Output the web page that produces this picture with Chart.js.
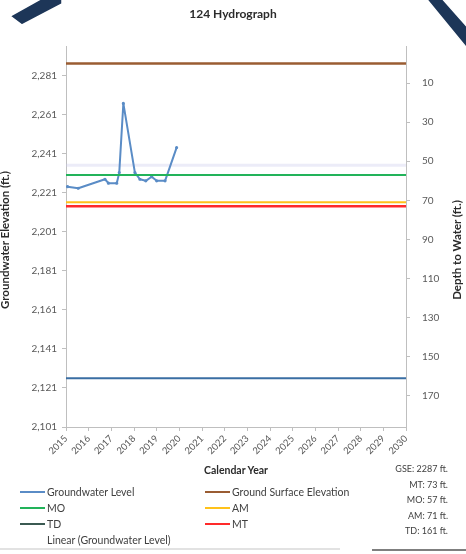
<!DOCTYPE html>
<html>
<head>
<meta charset="utf-8">
<script src="https://cdn.jsdelivr.net/npm/chart.js@4.4.1/dist/chart.umd.min.js"></script>
<style>
  html, body { margin: 0; padding: 0; background: #fff; }
  #wrap { position: relative; width: 466px; height: 554px; overflow: hidden;
          font-family: Lato, "Liberation Sans", sans-serif; color: #404040; }
  #chart { position: absolute; left: 0; top: 0; }
  .txt { position: absolute; white-space: nowrap; }
  .bold { font-weight: bold; color: #2b2b2b; }
  .rot { transform: translate(-50%, -50%) rotate(-90deg); }
  .legend-item { position: absolute; height: 14px; font-size: 10.5px; line-height: 14px; white-space: nowrap; }
  .legend-item .sw { position: absolute; left: 0; top: 6px; width: 25px; height: 2px; }
  .legend-item .lb { position: absolute; left: 27px; top: 0; }
  .note { position: absolute; right: 18px; font-size: 9px; text-align: right; white-space: nowrap; color: #404040; }
  svg { position: absolute; left: 0; top: 0; }
</style>
</head>
<body>
<div id="wrap">
  <canvas id="chart" width="466" height="554"></canvas>
  <svg width="466" height="554">
    <!-- slide corner ribbons -->
    <polygon points="10,16 46,-4 62,-4 62,4 22,25" fill="#1d3658" stroke="#ffffff" stroke-width="1.5"/>
    <polygon points="424,-4 440,-4 470,30 470,52" fill="#1d3658" stroke="#ffffff" stroke-width="1.5"/>
    <line x1="0" y1="549" x2="340" y2="549" stroke="#d9d9d9" stroke-width="1.5"/>
    <line x1="372" y1="550" x2="466" y2="550" stroke="#7f7f7f" stroke-width="2"/>
  </svg>
  <div class="txt bold" style="left:233px; top:13px; transform:translate(-50%,-50%); font-size:12px;">124 Hydrograph</div>
  <div class="txt bold rot" style="left:4px; top:240px; font-size:11.5px;">Groundwater Elevation (ft.)</div>
  <div class="txt bold rot" style="left:456px; top:250px; font-size:11.5px;">Depth to Water (ft.)</div>
  <div class="txt bold" style="left:236px; top:470px; transform:translate(-50%,-50%); font-size:10.5px;">Calendar Year</div>
  <div id="legend"></div>
  <div id="notes"></div>
</div>
<script>
// Well 124 reference elevations (ft.)
const gseElevation = 2287;
const depthMT = 73;
const depthMO = 57;
const depthAM = 71;
const depthTD = 161;

// Measured groundwater levels: decimal year and elevation (ft.)
const measureYears = [2015.07, 2015.54, 2016.72, 2016.87, 2017.24, 2017.35, 2017.53,
                      2018.04, 2018.26, 2018.52, 2018.78, 2019.00, 2019.37, 2019.88];
const gwElevation  = [2224.0, 2223.2, 2227.8, 2225.8, 2225.8, 2231.2, 2266.6,
                      2231.2, 2227.8, 2227.0, 2229.1, 2227.0, 2227.0, 2244.0];

// Linear trend of the groundwater level, at the ends of the year span
const trendYears = [2015, 2030];
const trendElevation = [2235, 2235];

// Axis ranges and tick labels
const yearSpan = [2015, 2030];
const yearTicks = [2015, 2016, 2017, 2018, 2019, 2020, 2021, 2022, 2023,
                   2024, 2025, 2026, 2027, 2028, 2029, 2030];
const elevRange = [2101, 2296];
const elevTicks = [2101, 2121, 2141, 2161, 2181, 2201, 2221, 2241, 2261, 2281];
const depthTicks = [10, 30, 50, 70, 90, 110, 130, 150, 170];

const flat = (elev) => yearSpan.map(x => ({ x, y: elev }));

const datasets = [
  { label: 'Groundwater Level', key: 'gw',
    data: measureYears.map((x, i) => ({ x, y: gwElevation[i] })),
    borderColor: '#5a8cc6', backgroundColor: '#5a8cc6', borderWidth: 2,
    borderJoinStyle: 'round', borderCapStyle: 'round',
    pointRadius: 0.6, pointHoverRadius: 0.6, order: 6 },
  { label: 'Ground Surface Elevation', key: 'gse', data: flat(gseElevation),
    borderColor: '#9a5c32', borderWidth: 2.5, pointRadius: 0, order: 5 },
  { label: 'MO', key: 'mo', data: flat(gseElevation - depthMO),
    borderColor: '#22b35a', borderWidth: 2, pointRadius: 0, order: 4 },
  { label: 'AM', key: 'am', data: flat(gseElevation - depthAM),
    borderColor: '#ffc21a', borderWidth: 2, pointRadius: 0, order: 3 },
  { label: 'TD', key: 'td', data: flat(gseElevation - depthTD),
    borderColor: '#3a6ea3', borderWidth: 2, pointRadius: 0, order: 2, legendColor: '#3b5a52' },
  { label: 'MT', key: 'mt', data: flat(gseElevation - depthMT),
    borderColor: '#ff2a2a', borderWidth: 2.5, pointRadius: 0, order: 1 },
  { label: 'Linear (Groundwater Level)', key: 'trend',
    data: trendYears.map((x, i) => ({ x, y: trendElevation[i] })),
    borderColor: 'rgba(200,200,236,0.35)', borderWidth: 3, pointRadius: 0, order: 7,
    legendColor: 'rgba(0,0,0,0)' }
];

const axisColor = '#bfbfbf';
const tickFont = { family: 'Lato, "Liberation Sans", sans-serif', size: 10 };

const chart = new Chart(document.getElementById('chart'), {
  type: 'line',
  data: { datasets },
  options: {
    responsive: false,
    animation: false,
    devicePixelRatio: 1,
    layout: { padding: { left: 0, right: 0, top: 46, bottom: 77 } },
    plugins: { legend: { display: false }, title: { display: false }, tooltip: { enabled: false } },
    elements: { line: { tension: 0 } },
    scales: {
      x: {
        type: 'linear', min: yearSpan[0], max: yearSpan[1],
        afterBuildTicks: s => { s.ticks = yearTicks.map(v => ({ value: v })); },
        afterFit: s => { s.height = 50; },
        ticks: { autoSkip: false, minRotation: 45, maxRotation: 45, color: '#595959',
                 font: { ...tickFont, size: 9.5 }, padding: 2, callback: v => String(v) },
        grid: { drawOnChartArea: false, tickLength: 4, color: axisColor },
        border: { color: axisColor, width: 1 }
      },
      y: {
        position: 'left', min: elevRange[0], max: elevRange[1],
        afterBuildTicks: s => { s.ticks = elevTicks.map(v => ({ value: v })); },
        afterFit: s => { s.width = 66; },
        ticks: { color: '#595959', font: tickFont, padding: 5,
                 callback: v => v.toLocaleString('en-US') },
        grid: { drawOnChartArea: false, tickLength: 4, color: axisColor },
        border: { color: axisColor, width: 1 }
      },
      y2: {
        position: 'right', reverse: true,
        min: gseElevation - elevRange[1], max: gseElevation - elevRange[0],
        afterBuildTicks: s => { s.ticks = depthTicks.map(v => ({ value: v })); },
        afterFit: s => { s.width = 60; },
        ticks: { color: '#595959', font: tickFont, padding: 12, callback: v => String(v) },
        grid: { drawOnChartArea: false, tickLength: 4, color: axisColor },
        border: { color: axisColor, width: 1 }
      }
    }
  }
});

// Two-column legend under the plot
const legendSlots = {
  gw:    [20, 485], gse: [205, 485],
  mo:    [20, 501], am:  [205, 501],
  td:    [20, 517], mt:  [205, 517],
  trend: [20, 533]
};
const legendBox = document.getElementById('legend');
chart.data.datasets.forEach(ds => {
  const [x, y] = legendSlots[ds.key];
  const item = document.createElement('div');
  item.className = 'legend-item';
  item.style.left = x + 'px';
  item.style.top = y + 'px';
  const sw = document.createElement('div');
  sw.className = 'sw';
  sw.style.background = ds.legendColor || ds.borderColor;
  const lb = document.createElement('div');
  lb.className = 'lb';
  lb.textContent = ds.label;
  item.appendChild(sw);
  item.appendChild(lb);
  legendBox.appendChild(item);
});

// Reference depths listed at the lower right
const noteLines = [
  'GSE: ' + gseElevation + ' ft.',
  'MT: ' + depthMT + ' ft.',
  'MO: ' + depthMO + ' ft.',
  'AM: ' + depthAM + ' ft.',
  'TD: ' + depthTD + ' ft.'
];
const notesBox = document.getElementById('notes');
noteLines.forEach((t, i) => {
  const d = document.createElement('div');
  d.className = 'note';
  d.style.top = (463 + i * 15.5) + 'px';
  d.textContent = t;
  notesBox.appendChild(d);
});
</script>
</body>
</html>
